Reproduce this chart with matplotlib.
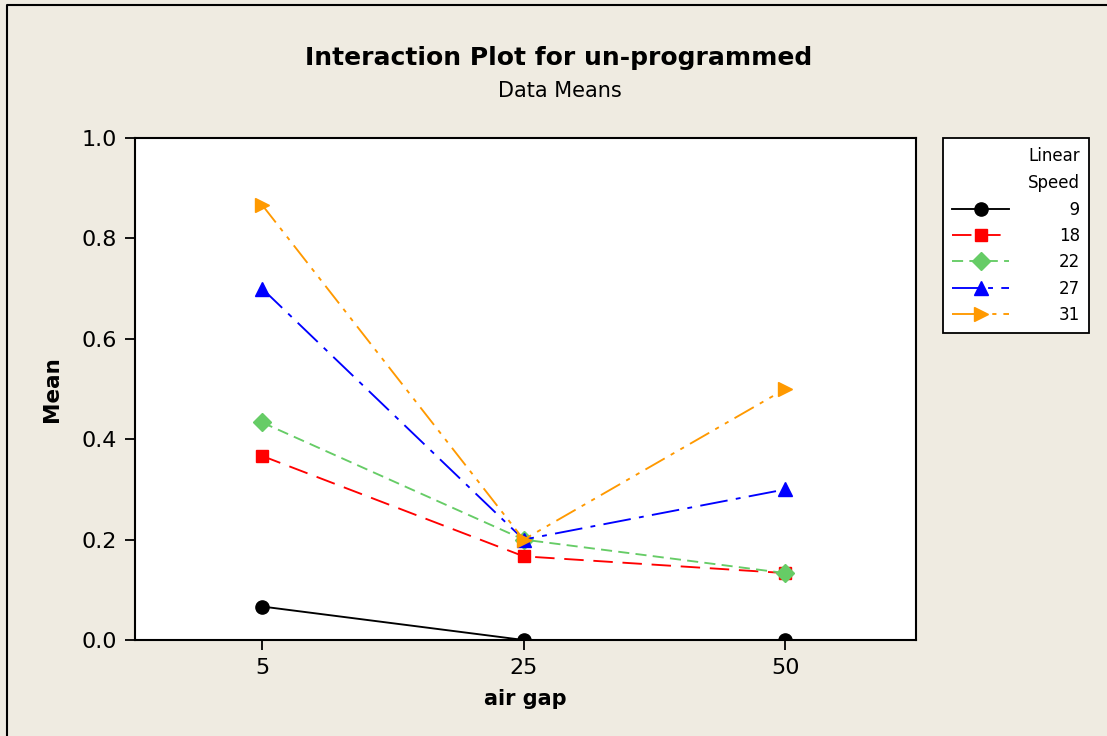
import matplotlib.pyplot as plt
from matplotlib.lines import Line2D

plt.rcParams['font.family'] = ['DejaVu Sans']
plt.rcParams['lines.scale_dashes'] = False

# data
air_gap = ['5', '25', '50']
speeds = ['9', '18', '22', '27', '31']
mean_9 = [0.0667, 0.0, 0.0]
mean_18 = [0.3667, 0.1667, 0.1333]
mean_22 = [0.4333, 0.2, 0.1333]
mean_27 = [0.7, 0.2, 0.3]
mean_31 = [0.8667, 0.2, 0.5]

series = [mean_9, mean_18, mean_22, mean_27, mean_31]
colors = ['black', '#FF0000', '#66CC66', '#0000FF', '#FF9900']
markers = ['o', 's', 'D', '^', '>']
msizes = [9.5, 9, 9, 10, 10.5]
dashes = [None, (14, 7), (8, 4.5), (20, 6, 3.5, 6), (16, 5, 3, 5, 3, 5)]

bg = '#EFEBE1'
fig = plt.figure(figsize=(11.07, 7.36), dpi=100, facecolor=bg)
ax = fig.add_axes([135/1107, 1-640/736, 781/1107, 502/736])
ax.set_facecolor('white')

x = list(range(len(air_gap)))
for vals, c, m, ms, d, lab in zip(series, colors, markers, msizes, dashes, speeds):
    line, = ax.plot(x, vals, color=c, marker=m, markersize=ms, lw=1.35,
                    markeredgecolor=c, label='\u2007' * (2 - len(lab)) + lab,
                    zorder=3)
    if d is not None:
        line.set_dashes(d)

ax.set_xlim(-0.486, 2.5)
ax.set_ylim(0, 1.0)
ax.set_xticks(x)
ax.set_xticklabels(air_gap)
ax.set_yticks([0, 0.2, 0.4, 0.6, 0.8, 1.0])
ax.set_yticklabels(['0.0', '0.2', '0.4', '0.6', '0.8', '1.0'])
ax.tick_params(direction='out', length=7, width=1.3, labelsize=16, pad=6)
for s in ax.spines.values():
    s.set_linewidth(1.5)
    s.set_zorder(4)

ax.set_xlabel('air gap', fontsize=15, fontweight='bold', labelpad=8)
ax.set_ylabel('Mean', fontsize=15.5, fontweight='bold', labelpad=14)

fig.text(559/1107, 1-58/736, 'Interaction Plot for un-programmed',
         fontsize=18, fontweight='bold', ha='center', va='center')
fig.text(560/1107, 1-91/736, 'Data Means', fontsize=15, ha='center', va='center')

leg = ax.legend(title='Linear\nSpeed', loc='upper left',
                bbox_to_anchor=(943/1107, 1-138/736), bbox_transform=fig.transFigure,
                fontsize=12, title_fontsize=12, fancybox=False, framealpha=1,
                edgecolor='black', borderpad=0.55, handlelength=3.4,
                handletextpad=3.0, labelspacing=0.5, borderaxespad=0,
                alignment='right')
leg.get_frame().set_linewidth(1.3)
leg.get_title().set_multialignment('right')
leg.get_title().set_linespacing(1.65)

# outer frame: only left and top edges are visible in the picture
fig.add_artist(Line2D([7/1107, 7/1107, 1.0], [0.0, 1-5/736, 1-5/736],
                      transform=fig.transFigure, color='black', lw=1.5))

fig.savefig('out.png', dpi=100, facecolor=bg)
